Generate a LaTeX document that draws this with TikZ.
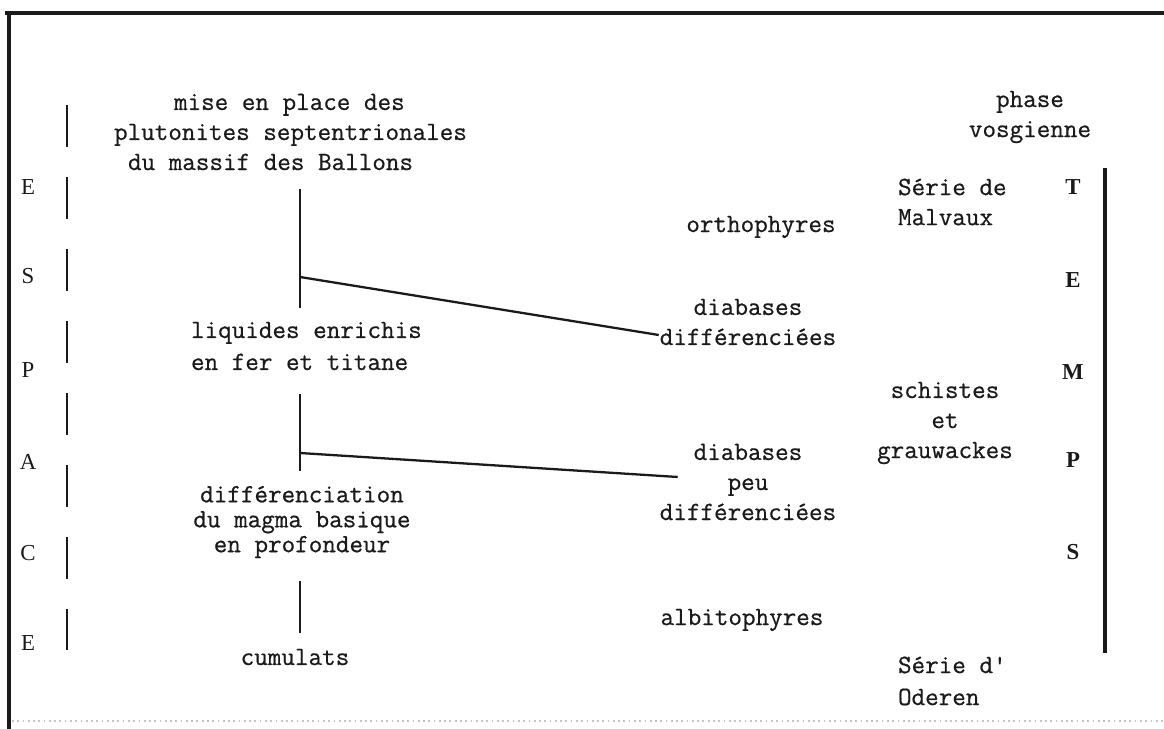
\documentclass[tikz,border=0pt]{standalone}
\usepackage{fontspec}
\setmonofont{Latin Modern Mono}[FakeBold=0.6]
\newfontfamily\lettrefont{Liberation Serif}
\usetikzlibrary{calc}
\definecolor{cink}{HTML}{1A1A1A}
\definecolor{cfaint}{HTML}{C4C4C4}
\tikzset{
  every picture/.style={line width=1.2pt},
  txt/.style={font=\ttfamily\fontsize{15pt}{#1}\selectfont, text=cink, inner sep=0pt, align=center},
  txt/.default=17.1pt,
  letter/.style={font=\lettrefont\fontsize{13pt}{15pt}\selectfont, text=cink, inner sep=0pt},
  stem/.style={draw=cink, line width=1.6pt},
  branch/.style={draw=cink, line width=1.3pt},
  frame/.style={draw=cink, line width=1.8pt},
}

\begin{document}
\begin{tikzpicture}[x=0.02cm, y=-0.02cm]
  \useasboundingbox (0,0) rectangle (1164,729);
  \draw[frame] (5,13) -- (1164,13);
  \draw[frame] (9,13) -- (9,729);
  \draw[cfaint, dotted, line width=1pt] (12,721) -- (1164,721);
  \foreach \l/\y in {E/187, S/276, P/370, A/462, C/553, E/643}
    \node[letter] (esp\y) at (28,\y) {\l};
  \foreach \l/\y in {T/187, E/280, M/372, P/460, S/552}
    \node[letter, font=\lettrefont\bfseries\fontsize{13pt}{15pt}\selectfont] (tps\y) at (1073,\y) {\l};
  \draw[stem, dash pattern=on 23.9pt off 17.1pt] (67,105) -- (67,650);
  \draw[frame] (1105,168) -- (1105,653);
  \node[txt, align=left, anchor=west] (mise) at (113,132) {\hspace*{1.2cm}mise en place des\\plutonites septentrionales\\\hspace*{0.28cm}du massif des Ballons};
  \node[txt=18.2pt, align=left, anchor=west] (liq) at (190,346) {liquides enrichis\\en fer et titane};
  \node[txt=14.2pt] (diff) at (302,522) {différenciation\\du magma basique\\en profondeur};
  \node[txt] (cum) at (295,657) {cumulats};
  \node[txt] (ortho) at (761,227) {orthophyres};
  \node[txt] (dd) at (748,322) {diabases\\différenciées};
  \node[txt] (dp) at (748,482) {diabases\\peu\\différenciées};
  \node[txt] (albi) at (742,620) {albitophyres};
  \node[txt, align=left, anchor=west] (malv) at (897,202) {Série de\\Malvaux};
  \node[txt] (schist) at (945,423) {schistes\\et\\grauwackes};
  \node[txt=18.2pt, align=left, anchor=west] (oder) at (897,681) {Série d'\\Oderen};
  \node[txt] (vosg) at (1030,117) {phase\\vosgienne};
  \coordinate (j1) at (300,277);
  \coordinate (j2) at (300,453);
  \draw[stem, shorten <=10.2pt, shorten >=7.4pt] (mise.south -| j1) -- (liq.north -| j1);
  \draw[stem, shorten <=13pt, shorten >=8pt] (liq.south -| j1) -- (diff.north -| j1);
  \draw[stem, shorten <=12.5pt, shorten >=8.5pt] (diff.south -| j1) -- (cum.north -| j1);
  \draw[branch] (j1) -- ([yshift=-0.26cm]dd.west);
  \draw[branch] (j2) -- ($(dp.west)+(19,-5)$);
\end{tikzpicture}
\end{document}
